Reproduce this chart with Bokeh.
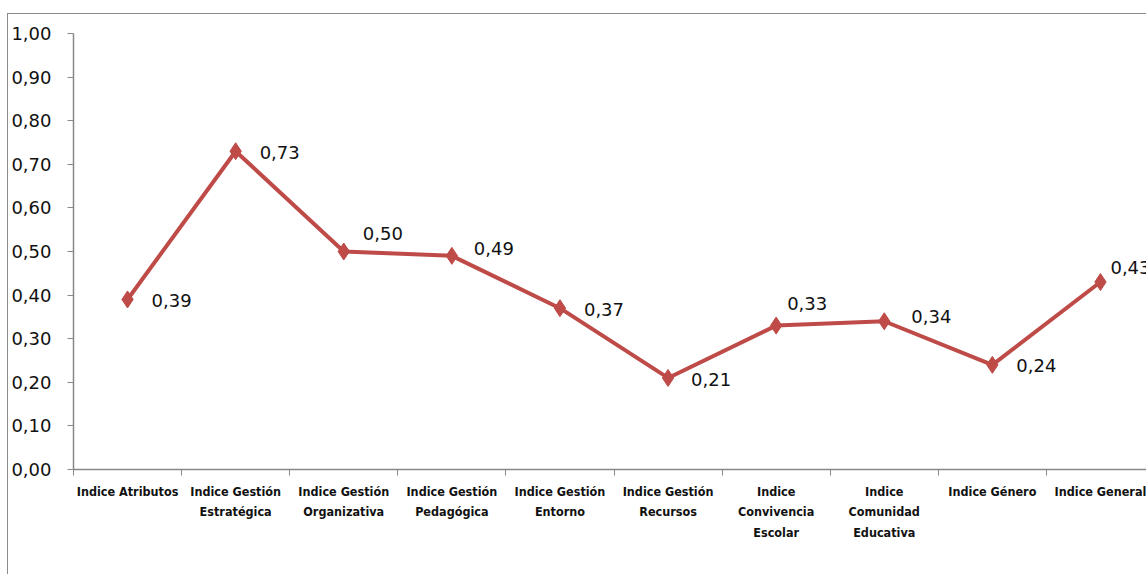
from bokeh.plotting import figure
from bokeh.models import (ColumnDataSource, FixedTicker, Range1d, CustomJSTickFormatter)
from bokeh.core.properties import value
from bokeh.embed import file_html
from bokeh.resources import INLINE

categories = ["Indice Atributos", "Indice Gestión\nEstratégica", "Indice Gestión\nOrganizativa",
              "Indice Gestión\nPedagógica", "Indice Gestión\nEntorno", "Indice Gestión\nRecursos",
              "Indice\nConvivencia\nEscolar", "Indice\nComunidad\nEducativa", "Indice Género",
              "Indice General"]
values = [0.39, 0.73, 0.50, 0.49, 0.37, 0.21, 0.33, 0.34, 0.24, 0.43]
y_ticks = [i / 10 for i in range(11)]

# label placement (pixels) - style only
lab_dx = [24, 24, 19, 22, 24, 23, 11, 27, 24, 10]
lab_dy = [1, 1, -18, -7, 1, 2, -22, -5, 1, -15]

centers = [i + 0.5 for i in range(len(categories))]
src = ColumnDataSource(dict(
    x=centers, y=values,
    txt=[f"{v:.2f}".replace(".", ",") for v in values],
    dx=lab_dx, dy=lab_dy,
))

RED = "#BE4B48"
GRAY = "#888888"

p = figure(width=1138, height=560, output_backend="svg", toolbar_location=None,
           x_range=Range1d(0, 1074 / 108.1), y_range=Range1d(0, 1),
           frame_width=1074, frame_height=436,
           min_border_left=64, min_border_top=19, min_border_bottom=105, min_border_right=0,
           background_fill_color="white", border_fill_color="white")
p.margin = (13, 0, 0, 7)
p.styles = {"border-left": "1px solid #8c8c8c", "border-top": "1px solid #8c8c8c"}
p.outline_line_color = None
p.xgrid.visible = False
p.ygrid.visible = False

p.line("x", "y", source=src, line_color=RED, line_width=4)
p.scatter("x", "y", source=src, marker="diamond", size=17, fill_color=RED, line_color=RED)
p.text("x", "y", text="txt", source=src, x_offset="dx", y_offset="dy",
       text_font=value("DejaVu Sans"), text_font_size="18px", text_color="#111111",
       text_align="left", text_baseline="middle")

# y axis
ya = p.yaxis[0]
ya.ticker = FixedTicker(ticks=y_ticks)
ya.formatter = CustomJSTickFormatter(code="return tick.toFixed(2).replace('.', ',');")
ya.axis_line_color = GRAY
ya.axis_line_width = 1.5
ya.major_tick_line_color = GRAY
ya.major_tick_out = 6
ya.major_tick_in = 0
ya.minor_tick_line_color = None
ya.major_label_text_font = "DejaVu Sans"
ya.major_label_text_font_size = "18px"
ya.major_label_text_color = "#111111"
ya.major_label_standoff = 16

# x axis
xa = p.xaxis[0]
xa.ticker = FixedTicker(ticks=centers, minor_ticks=list(range(len(categories) + 1)))
xa.major_label_overrides = {c: lab for c, lab in zip(centers, categories)}
xa.axis_line_color = GRAY
xa.axis_line_width = 1.5
xa.major_tick_line_color = None
xa.minor_tick_line_color = GRAY
xa.minor_tick_out = 6
xa.minor_tick_in = 0
xa.major_label_text_font = "DejaVu Sans Condensed"
xa.major_label_text_font_style = "bold"
xa.major_label_text_font_size = "12.5px"
xa.major_label_text_color = "#111111"
xa.major_label_text_line_height = 1.37
xa.major_label_standoff = 8

open("out.html", "w").write(file_html(p, INLINE))
